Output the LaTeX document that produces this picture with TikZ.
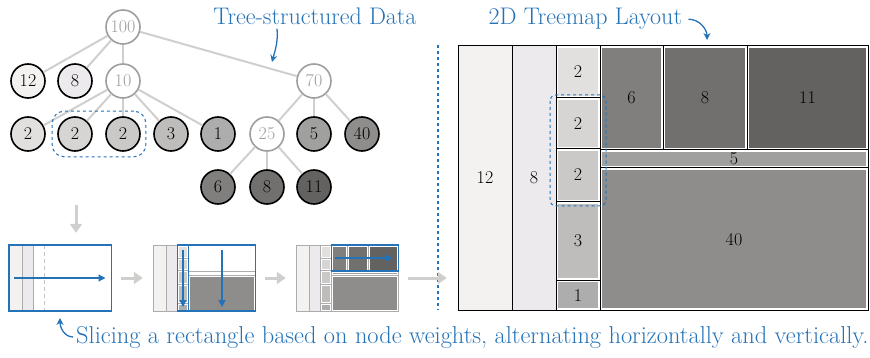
\documentclass[tikz,border=0pt]{standalone}
\usepackage{fontspec}
\usetikzlibrary{arrows.meta,positioning,fit}

\definecolor{tmblue}{RGB}{36,114,184}
\definecolor{edgegray}{RGB}{208,207,206}
\definecolor{ringgray}{RGB}{158,158,158}
\definecolor{linegray}{RGB}{172,172,172}
\definecolor{w12}{HTML}{F3F2F1}
\definecolor{w8}{HTML}{ECEAEC}
\definecolor{g2a}{HTML}{E1E0DF}
\definecolor{g2b}{HTML}{D6D5D4}
\definecolor{g2c}{HTML}{CBC9C8}
\definecolor{g3}{HTML}{BEBDBC}
\definecolor{g1}{HTML}{AEADAD}
\definecolor{g5}{HTML}{A0A09F}
\definecolor{g40}{HTML}{8E8D8C}
\definecolor{g6}{HTML}{807F7E}
\definecolor{g8}{HTML}{71706F}
\definecolor{g11}{HTML}{636261}

\tikzset{
	wnode/.style={circle, draw=black, line width=1.6pt, minimum size=34pt, inner sep=0pt, font=\fontsize{18}{18}\selectfont},
	hnode/.style={wnode, draw=ringgray, fill=white, text=ringgray},
	tedge/.style={edgegray, line width=2pt},
	flow/.style={edgegray, line width=3pt, -{Triangle[length=9pt,width=12pt]}},
	note/.style={tmblue, font=\fontsize{24}{24}\selectfont},
	notearrow/.style={tmblue, line width=1.3pt, -{Stealth[length=7pt,width=7pt]}},
	cut/.style={tmblue, line width=1.2pt, -{Triangle[length=7pt,width=7pt]}},
	panel/.style={minimum width=102pt, minimum height=66pt, inner sep=0pt},
	cellnum/.style={font=\fontsize{18}{18}\selectfont},
}

\begin{document}
\begin{tikzpicture}[x=1pt, y=-1pt]
	\useasboundingbox (0,0) rectangle (870,358);

	% tree
	\node[hnode] (r) at (123,27) {100};
	\node[wnode, fill=w12] (a12) at (28,81) {12};
	\node[wnode, fill=w8] (a8) at (75,81) {8};
	\node[hnode] (a10) at (123,81) {10};
	\node[hnode] (a70) at (314,81) {70};
	\node[wnode, fill=g2a] (b2a) at (28,134) {2};
	\node[wnode, fill=g2b] (b2b) at (75,134) {2};
	\node[wnode, fill=g2c] (b2c) at (123,134) {2};
	\node[wnode, fill=g3] (b3) at (171,134) {3};
	\node[wnode, fill=g1] (b1) at (218,134) {1};
	\node[hnode] (b25) at (267,134) {25};
	\node[wnode, fill=g5] (b5) at (314,134) {5};
	\node[wnode, fill=g40] (b40) at (362,134) {40};
	\node[wnode, fill=g6] (c6) at (218,187) {6};
	\node[wnode, fill=g8] (c8) at (267,187) {8};
	\node[wnode, fill=g11] (c11) at (314,187) {11};

	\draw[tedge] (r) -- (a12);
	\draw[tedge] (r) -- (a8);
	\draw[tedge] (r) -- (a10);
	\draw[tedge] (r) -- (a70);
	\draw[tedge] (a10) -- (b2a);
	\draw[tedge] (a10) -- (b2b);
	\draw[tedge] (a10) -- (b2c);
	\draw[tedge] (a10) -- (b3);
	\draw[tedge] (a10) -- (b1);
	\draw[tedge] (a70) -- (b25);
	\draw[tedge] (a70) -- (b5);
	\draw[tedge] (a70) -- (b40);
	\draw[tedge] (b25) -- (c6);
	\draw[tedge] (b25) -- (c8);
	\draw[tedge] (b25) -- (c11);

	\node[fit=(b2b)(b2c), inner sep=5pt, draw=tmblue, dashed, line width=1pt, rounded corners=12pt] (grp) {};

	\node[note, anchor=base] (ttree) at (315,25) {Tree-structured Data};
	\coordinate (ttreetip) at (272,62);
	\draw[notearrow] ([xshift=-38pt]ttree.south) to[out=-85, in=75] (ttreetip);

	% divider
	\draw[tmblue, line width=1.2pt, dash pattern=on 3pt off 3pt] (438,45) -- (438,310);

	% treemap
	\node[note, anchor=base west] (ttm) at (485,25) {2D Treemap Layout};
	\coordinate (ttmtip) at (707,40);
	\draw[notearrow] ([xshift=3pt]ttm.east) to[out=0, in=90] (ttmtip);

	\node[panel, minimum width=410pt, minimum height=264pt] (tm) at (663,178) {};
	\begin{scope}[shift={(458,46)}]
		\fill[w12] (0,0) rectangle (54,264);
		\fill[w8] (54,0) rectangle (98,264);
		\fill[g2a] (100,2) rectangle (140,50);
		\fill[g2b] (100,54) rectangle (140,101);
		\fill[g2c] (100,105) rectangle (140,154);
		\fill[g3] (100,158) rectangle (140,232);
		\fill[g1] (100,236) rectangle (140,262);
		\fill[g6] (144,2) rectangle (203,102);
		\fill[g8] (207,2) rectangle (287,102);
		\fill[g11] (291,2) rectangle (408,102);
		\fill[g5] (144,106) rectangle (408,120);
		\fill[g40] (144,124) rectangle (408,262);

		\draw[line width=1pt] (0,0) rectangle (410,264);
		\draw[line width=1pt] (54,0) -- (54,264);
		\draw[line width=1pt] (98,0) -- (98,264);
		\draw[line width=1pt] (142,0) -- (142,264);
		\draw[line width=1pt] (98,52) -- (142,52);
		\draw[line width=1pt] (98,103) -- (142,103);
		\draw[line width=1pt] (98,156) -- (142,156);
		\draw[line width=1pt] (98,234) -- (142,234);
		\draw[line width=1pt] (142,104) -- (410,104);
		\draw[line width=1pt] (142,122) -- (410,122);
		\draw[line width=1pt] (205,0) -- (205,104);
		\draw[line width=1pt] (289,0) -- (289,104);

		\node[cellnum] (m12) at (27,132) {12};
		\node[cellnum] (m8) at (76,132) {8};
		\node[cellnum] (m2a) at (120,26) {2};
		\node[cellnum] (m2b) at (120,78) {2};
		\node[cellnum] (m2c) at (120,129) {2};
		\node[cellnum] (m3) at (120,195) {3};
		\node[cellnum] (m1) at (120,250) {1};
		\node[cellnum] (m6) at (173.5,52) {6};
		\node[cellnum] (m8b) at (247,52) {8};
		\node[cellnum] (m11) at (349.5,52) {11};
		\node[cellnum] (m5) at (276,113) {5};
		\node[cellnum] (m40) at (276,194) {40};

		\draw[tmblue, dashed, line width=1pt, rounded corners=6pt] (92,49) rectangle (148,160);
	\end{scope}

	% slicing steps
	\node[panel] (pA) at (60,278) {};
	\node[panel] (pB) at (204,278) {};
	\node[panel] (pC) at (347,278) {};

	\begin{scope}[shift={(9,245)}, scale=0.25]
		\fill[w12] (0,0) rectangle (54,264);
		\fill[w8] (54,0) rectangle (98,264);
		\draw[linegray, line width=0.8pt] (54,0) -- (54,264);
		\draw[linegray, line width=0.8pt] (98,0) -- (98,264);
		\draw[linegray!70, line width=1pt, dash pattern=on 4pt off 3pt] (142,0) -- (142,264);
		\draw[tmblue, line width=1.2pt] (0,0) rectangle (410,264);
		\draw[cut] (20,132) -- (386,132);
	\end{scope}

	\begin{scope}[shift={(153,245)}, scale=0.25]
		\fill[w12] (0,0) rectangle (54,264);
		\fill[w8] (54,0) rectangle (98,264);
		\fill[g2a] (104,6) rectangle (136,46);
		\fill[g2b] (104,58) rectangle (136,97);
		\fill[g2c] (104,109) rectangle (136,150);
		\fill[g3] (104,162) rectangle (136,228);
		\fill[g1] (104,240) rectangle (136,258);
		\fill[g40] (148,128) rectangle (404,258);
		\draw[linegray, line width=0.8pt] (0,0) rectangle (410,264);
		\draw[linegray, line width=0.8pt] (54,0) -- (54,264);
		\draw[linegray, line width=0.8pt] (98,0) -- (98,264);
		\draw[linegray, line width=0.8pt] (98,52) -- (142,52);
		\draw[linegray, line width=0.8pt] (98,103) -- (142,103);
		\draw[linegray, line width=0.8pt] (98,156) -- (142,156);
		\draw[linegray, line width=0.8pt] (98,234) -- (142,234);
		\draw[linegray, line width=0.8pt] (142,104) -- (410,104);
		\draw[linegray, line width=0.8pt] (142,122) -- (410,122);
		\draw[tmblue, line width=1.2pt] (98,0) rectangle (142,264);
		\draw[tmblue, line width=1.2pt] (142,0) rectangle (410,264);
		\draw[cut] (120,20) -- (120,248);
		\draw[cut] (276,20) -- (276,248);
	\end{scope}

	\begin{scope}[shift={(296,245)}, scale=0.25]
		\fill[w12] (0,0) rectangle (54,264);
		\fill[w8] (54,0) rectangle (98,264);
		\fill[g2a] (104,6) rectangle (136,46);
		\fill[g2b] (104,58) rectangle (136,97);
		\fill[g2c] (104,109) rectangle (136,150);
		\fill[g3] (104,162) rectangle (136,228);
		\fill[g1] (104,240) rectangle (136,258);
		\fill[g6] (148,6) rectangle (199,98);
		\fill[g8] (211,6) rectangle (283,98);
		\fill[g11] (295,6) rectangle (404,98);
		\fill[g5] (148,110) rectangle (404,116);
		\fill[g40] (148,128) rectangle (404,258);
		\draw[linegray, line width=0.8pt] (0,0) rectangle (410,264);
		\draw[linegray, line width=0.8pt] (54,0) -- (54,264);
		\draw[linegray, line width=0.8pt] (98,0) -- (98,264);
		\draw[linegray, line width=0.8pt] (142,0) -- (142,264);
		\draw[linegray, line width=0.8pt] (98,52) -- (142,52);
		\draw[linegray, line width=0.8pt] (98,103) -- (142,103);
		\draw[linegray, line width=0.8pt] (98,156) -- (142,156);
		\draw[linegray, line width=0.8pt] (98,234) -- (142,234);
		\draw[linegray, line width=0.8pt] (142,104) -- (410,104);
		\draw[linegray, line width=0.8pt] (142,122) -- (410,122);
		\draw[linegray, line width=0.8pt] (205,0) -- (205,104);
		\draw[linegray, line width=0.8pt] (289,0) -- (289,104);
		\draw[tmblue, line width=1.2pt] (142,0) rectangle (410,104);
		\draw[cut] (156,52) -- (386,52);
	\end{scope}

	\coordinate (drop) at (76,205);
	\draw[flow, shorten >=12pt] (drop) -- (drop |- pA.north);
	\draw[flow, shorten <=10pt, shorten >=10pt] (pA) -- (pB);
	\draw[flow, shorten <=10pt, shorten >=10pt] (pB) -- (pC);
	\draw[flow, shorten <=10pt, shorten >=11pt] (pC) -- (pC -| tm.west);

	% caption
	\node[note, font=\fontsize{24.4}{24.4}\selectfont, anchor=base west, inner sep=0pt] (capt) at (76,343) {Slicing a rectangle based on node weights, alternating horizontally and vertically.};
	\coordinate (capttip) at (60,318);
	\draw[notearrow] ([xshift=-3pt]capt.west) to[out=180, in=-90] (capttip);
\end{tikzpicture}
\end{document}
